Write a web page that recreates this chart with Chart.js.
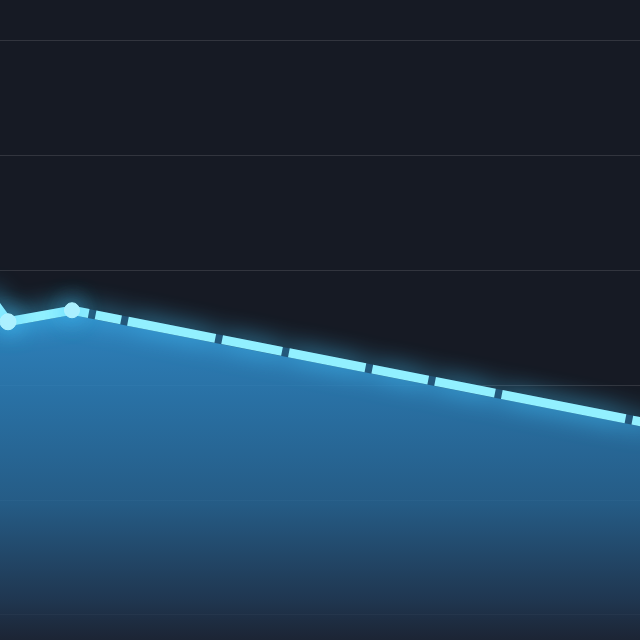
<!DOCTYPE html>
<html>
<head>
<meta charset="utf-8">
<script src="https://cdn.jsdelivr.net/npm/chart.js@4"></script>
<style>
html,body{margin:0;padding:0;background:#161a24;}
#wrap{width:640px;height:640px;position:relative;}
</style>
</head>
<body>
<div id="wrap"><canvas id="c" width="640" height="640"></canvas></div>
<script>
// Data (x positions in period units, y values)
const periods = [-0.2, 0.125, 1.125, 10.2];
const values = [2.80, 2.55, 2.65, 1.66];
const yTicks = [0, 1, 2, 3, 4, 5];
const projectionStartIndex = 2;

const projectionDash = [17, 7, 26, 7, 89, 7, 61, 7, 78, 7, 57, 7, 61, 7, 126, 7];

const glow = {
  id: 'glow',
  beforeDatasetDraw(chart, args) {
    const ctx = chart.ctx;
    ctx.save();
    if (args.index === 0) {
      ctx.shadowColor = 'rgba(70,200,255,1)';
      ctx.shadowBlur = 24;
    }
  },
  afterDatasetDraw(chart) {
    chart.ctx.restore();
  }
};

const bgPlugin = {
  id: 'bg',
  beforeDraw(chart) {
    const ctx = chart.ctx;
    ctx.save();
    ctx.fillStyle = '#161a24';
    ctx.fillRect(0, 0, chart.width, chart.height);
    ctx.restore();
  }
};

const ctx = document.getElementById('c').getContext('2d');
function fillGradient(context) {
  const ca = context.chart.chartArea;
  if (!ca) return 'rgba(42,128,184,0.8)';
  const g = context.chart.ctx.createLinearGradient(0, 300, 0, ca.bottom);
  g.addColorStop(0, 'rgba(50,148,215,0.88)');
  g.addColorStop(0.3, 'rgba(44,126,184,0.86)');
  g.addColorStop(0.6, 'rgba(40,104,152,0.84)');
  g.addColorStop(0.88, 'rgba(34,62,92,0.8)');
  g.addColorStop(1, 'rgba(30,40,58,0.75)');
  return g;
}

const points = periods.map((p, i) => ({x: p, y: values[i]}));

new Chart(ctx, {
  type: 'line',
  data: {
    datasets: [{
      data: points,
      order: 0,
      borderColor: '#92f0ff',
      borderWidth: 9,
      borderCapStyle: 'butt',
      borderJoinStyle: 'round',
      tension: 0,
      fill: 'start',
      backgroundColor: fillGradient,
      pointRadius: (c) => c.dataIndex === 1 ? 8 : (c.dataIndex === 2 ? 7.5 : 0),
      pointBackgroundColor: '#b0f2ff',
      pointBorderColor: '#b0f2ff',
      pointBorderWidth: 1,
      segment: {
        borderDash: (c) => c.p0DataIndex >= projectionStartIndex ? projectionDash : undefined
      }
    }, {
      data: points,
      order: 1,
      borderColor: '#1b3856',
      borderWidth: 9,
      borderCapStyle: 'butt',
      tension: 0,
      fill: false,
      pointRadius: 0
    }]
  },
  options: {
    responsive: false,
    animation: false,
    layout: {padding: 0},
    plugins: {legend: {display: false}, tooltip: {enabled: false}, filler: {drawTime: 'beforeDatasetsDraw'}},
    scales: {
      x: {
        type: 'linear', min: 0, max: 10,
        display: false
      },
      y: {
        min: -0.2174, max: 5.348,
        afterBuildTicks(axis) { axis.ticks = yTicks.map(v => ({value: v})); },
        border: {display: false},
        ticks: {display: false},
        grid: {color: 'rgba(255,255,255,0.12)', lineWidth: 1, drawTicks: false}
      }
    }
  },
  plugins: [bgPlugin, glow]
});
</script>
</body>
</html>
